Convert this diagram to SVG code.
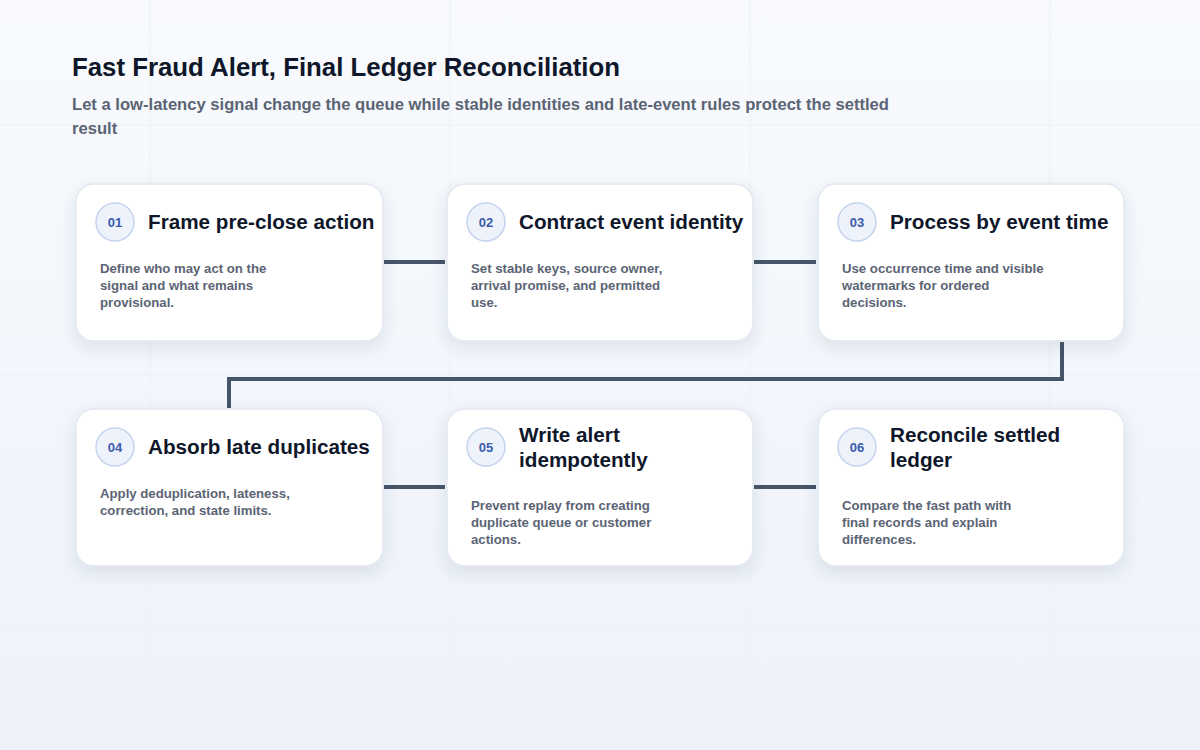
<svg xmlns="http://www.w3.org/2000/svg" width="1200" height="750" viewBox="0 0 1200 750">
<defs>
<linearGradient id="bg" x1="0" y1="0" x2="0" y2="1"><stop offset="0" stop-color="#f8fafd"/><stop offset="1" stop-color="#eef2fa"/></linearGradient>
<filter id="sh" x="-20%" y="-20%" width="140%" height="150%"><feDropShadow dx="0" dy="6" stdDeviation="8" flood-color="#334155" flood-opacity="0.12"/></filter>
<style>
.card{fill:#fff;stroke:#e2e8f0;stroke-width:1.5;filter:url(#sh)}
.num{fill:#eef2fb;stroke:#c5d3ee;stroke-width:1.5}
.nt{font-family:"Liberation Sans",Arial,sans-serif;font-size:13px;font-weight:bold;fill:#3b5bab;text-anchor:middle}
.tt{font-family:"Liberation Sans",Arial,sans-serif;font-size:20.7px;font-weight:bold;fill:#0f172a}
.bt{font-family:"Liberation Sans",Arial,sans-serif;font-size:13.2px;font-weight:bold;fill:#5b6474}
.con{fill:none;stroke:#475569;stroke-width:4}
.grid{stroke:#edf0f6;stroke-width:1}
</style>
</defs>
<rect width="1200" height="750" fill="url(#bg)"/>
<g class="grid"><line x1="150" y1="0" x2="150" y2="750"/><line x1="450" y1="0" x2="450" y2="750"/><line x1="750" y1="0" x2="750" y2="750"/><line x1="1050" y1="0" x2="1050" y2="750"/><line x1="0" y1="125" x2="1200" y2="125"/><line x1="0" y1="375" x2="1200" y2="375"/><line x1="0" y1="625" x2="1200" y2="625"/></g>
<text x="72" y="76" font-family="Liberation Sans,Arial,sans-serif" font-size="25.8" font-weight="bold" fill="#0f172a">Fast Fraud Alert, Final Ledger Reconciliation</text>
<text font-family="Liberation Sans,Arial,sans-serif" font-size="16.6" font-weight="bold" fill="#5b6474"><tspan x="72" y="110">Let a low-latency signal change the queue while stable identities and late-event rules protect the settled</tspan><tspan x="72" y="134">result</tspan></text>
<g id="connectors">
<line class="con" x1="384" y1="262" x2="445" y2="262"/>
<line class="con" x1="754" y1="262" x2="816" y2="262"/>
<polyline class="con" points="1062,342 1062,379 229,379 229,408"/>
<line class="con" x1="384" y1="487" x2="445" y2="487"/>
<line class="con" x1="754" y1="487" x2="816" y2="487"/>
</g>
<g id="n1"><rect class="card" x="76" y="184" width="307" height="157" rx="18"/><circle class="num" cx="115" cy="222" r="19"/><text class="nt" x="115" y="227">01</text><text class="tt" x="148" y="229">Frame pre-close action</text><text class="bt"><tspan x="100" y="273">Define who may act on the</tspan><tspan x="100" y="290">signal and what remains</tspan><tspan x="100" y="307">provisional.</tspan></text></g>
<g id="n2"><rect class="card" x="447" y="184" width="306" height="157" rx="18"/><circle class="num" cx="486" cy="222" r="19"/><text class="nt" x="486" y="227">02</text><text class="tt" x="519" y="229">Contract event identity</text><text class="bt"><tspan x="471" y="273">Set stable keys, source owner,</tspan><tspan x="471" y="290">arrival promise, and permitted</tspan><tspan x="471" y="307">use.</tspan></text></g>
<g id="n3"><rect class="card" x="818" y="184" width="306" height="157" rx="18"/><circle class="num" cx="857" cy="222" r="19"/><text class="nt" x="857" y="227">03</text><text class="tt" x="890" y="229">Process by event time</text><text class="bt"><tspan x="842" y="273">Use occurrence time and visible</tspan><tspan x="842" y="290">watermarks for ordered</tspan><tspan x="842" y="307">decisions.</tspan></text></g>
<g id="n4"><rect class="card" x="76" y="409" width="307" height="157" rx="18"/><circle class="num" cx="115" cy="447" r="19"/><text class="nt" x="115" y="452">04</text><text class="tt" x="148" y="454">Absorb late duplicates</text><text class="bt"><tspan x="100" y="498">Apply deduplication, lateness,</tspan><tspan x="100" y="515">correction, and state limits.</tspan></text></g>
<g id="n5"><rect class="card" x="447" y="409" width="306" height="157" rx="18"/><circle class="num" cx="486" cy="447" r="19"/><text class="nt" x="486" y="452">05</text><text class="tt"><tspan x="519" y="442">Write alert</tspan><tspan x="519" y="467">idempotently</tspan></text><text class="bt"><tspan x="471" y="510">Prevent replay from creating</tspan><tspan x="471" y="527">duplicate queue or customer</tspan><tspan x="471" y="544">actions.</tspan></text></g>
<g id="n6"><rect class="card" x="818" y="409" width="306" height="157" rx="18"/><circle class="num" cx="857" cy="447" r="19"/><text class="nt" x="857" y="452">06</text><text class="tt"><tspan x="890" y="442">Reconcile settled</tspan><tspan x="890" y="467">ledger</tspan></text><text class="bt"><tspan x="842" y="510">Compare the fast path with</tspan><tspan x="842" y="527">final records and explain</tspan><tspan x="842" y="544">differences.</tspan></text></g>
</svg>
